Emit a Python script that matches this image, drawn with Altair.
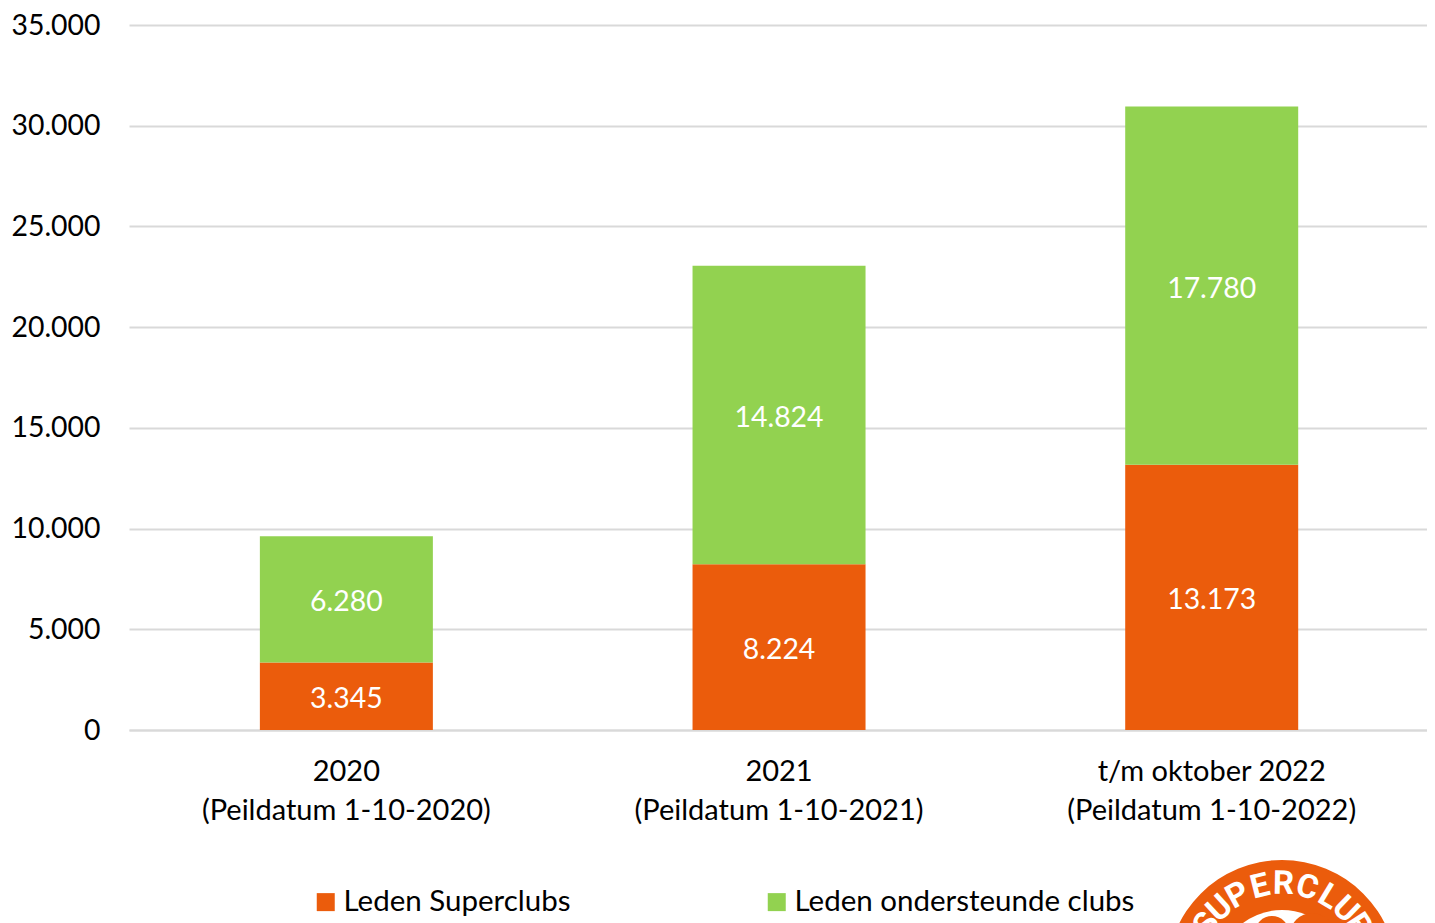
import altair as alt
import pandas as pd
import math

cats = ["2020", "2021", "t/m oktober 2022"]
sublabels = ["(Peildatum 1-10-2020)", "(Peildatum 1-10-2021)", "(Peildatum 1-10-2022)"]
superclubs = [3345, 8224, 13173]
ondersteund = [6280, 14824, 17780]
labels_a = ["3.345", "8.224", "13.173"]
labels_b = ["6.280", "14.824", "17.780"]
logo_letters = list("SUPERCLUBS")
logo_angles = [-56, -43, -29, -14, 1, 16, 31, 44, 57, 71]
ORANGE = "#EB5C0C"
GREEN = "#92D250"
FONT = "Lato"
FS = 28.4
FS_TXT = 29.5

rows = []
for c, a, b, la, lb in zip(cats, superclubs, ondersteund, labels_a, labels_b):
    rows.append(dict(cat=c, y0=0, y1=a, mid=a / 2, lab=la, s="Leden Superclubs"))
    rows.append(dict(cat=c, y0=a, y1=a + b, mid=a + b / 2, lab=lb, s="Leden ondersteunde clubs"))
df = pd.DataFrame(rows)
W, H = 1298, 705
label_expr = "datum.value == '2020' ? ['2020','%s'] : datum.value == '2021' ? ['2021','%s'] : ['t/m oktober 2022','%s']" % tuple(sublabels)
x_axis = alt.Axis(labelExpr=label_expr, labelAngle=0, labelFontSize=29, labelFont=FONT, labelColor="#000000",
                  labelPadding=27, labelLineHeight=39, labelLimit=600, ticks=False, domainColor="#D9D9D9", domainWidth=2)
x_scale = alt.Scale(paddingInner=0.6, paddingOuter=0.3, align=0.504)
y_axis = alt.Axis(values=list(range(0, 35001, 5000)), labelExpr="replace(format(datum.value, ','), ',', '.')",
                  labelFontSize=FS, labelFont=FONT, labelColor="#000000", labelPadding=29, labelOffset=0, ticks=False,
                  domain=False, gridColor="#D9D9D9", gridWidth=2)
y_scale = alt.Scale(domain=[0, 35000], nice=False)
x = alt.X("cat:N", sort=cats, title=None, scale=x_scale, axis=x_axis)
bars = alt.Chart(df).mark_bar(width=173).encode(
    x=x, y=alt.Y("y0:Q", title=None, scale=y_scale, axis=y_axis), y2="y1:Q",
    color=alt.Color("s:N", scale=alt.Scale(domain=["Leden Superclubs", "Leden ondersteunde clubs"], range=[ORANGE, GREEN]),
                    legend=alt.Legend(orient="none", legendX=182, legendY=H + 157, direction="horizontal", title=None,
                                      labelFontSize=FS_TXT, labelFont=FONT, labelColor="#000000", symbolType="square",
                                      symbolSize=324, symbolStrokeWidth=0, columnPadding=191, labelOffset=3, labelLimit=600)))
text = alt.Chart(df).mark_text(color="white", fontSize=FS, font=FONT, dy=3).encode(
    x=x, y=alt.Y("mid:Q", title=None, scale=y_scale, axis=y_axis), text="lab:N")

# Logo (decorative), clipped by the bottom of the page
CX, CY, R = 1282 - 129, 975 - 25, 115
logo_df = pd.DataFrame({"k": ["a"]})
def disc(cx, cy, r, color):
    return alt.Chart(logo_df).mark_point(filled=True, color=color, opacity=1, strokeWidth=0, size=4 * r * r).encode(
        x=alt.value(cx), y=alt.value(cy))
logo = [disc(CX, CY, R, ORANGE), disc(CX, CY, 65, "white"),
        disc(CX + 30, CY - 40, 22, ORANGE), disc(CX - 10, CY - 42, 17, ORANGE)]
for ch, ang in zip(logo_letters, logo_angles):
    r = 91
    t = math.radians(ang)
    logo.append(alt.Chart(pd.DataFrame({"t": [ch]})).mark_text(
        color="white", font="Roboto", fontWeight="bold", fontSize=33, angle=(ang + 360) % 360, baseline="middle").encode(
        x=alt.value(CX + r * math.sin(t)), y=alt.value(CY - r * math.cos(t)), text="t:N"))

chart = alt.layer(bars, text, *logo).properties(
    width=W, height=H, autosize=alt.AutoSizeParams(type="none"),
    padding={"left": 121, "top": 17, "right": 0, "bottom": 193}).configure_view(stroke=None)
chart.save("out.html", embed_options={"renderer": "svg", "actions": False})
